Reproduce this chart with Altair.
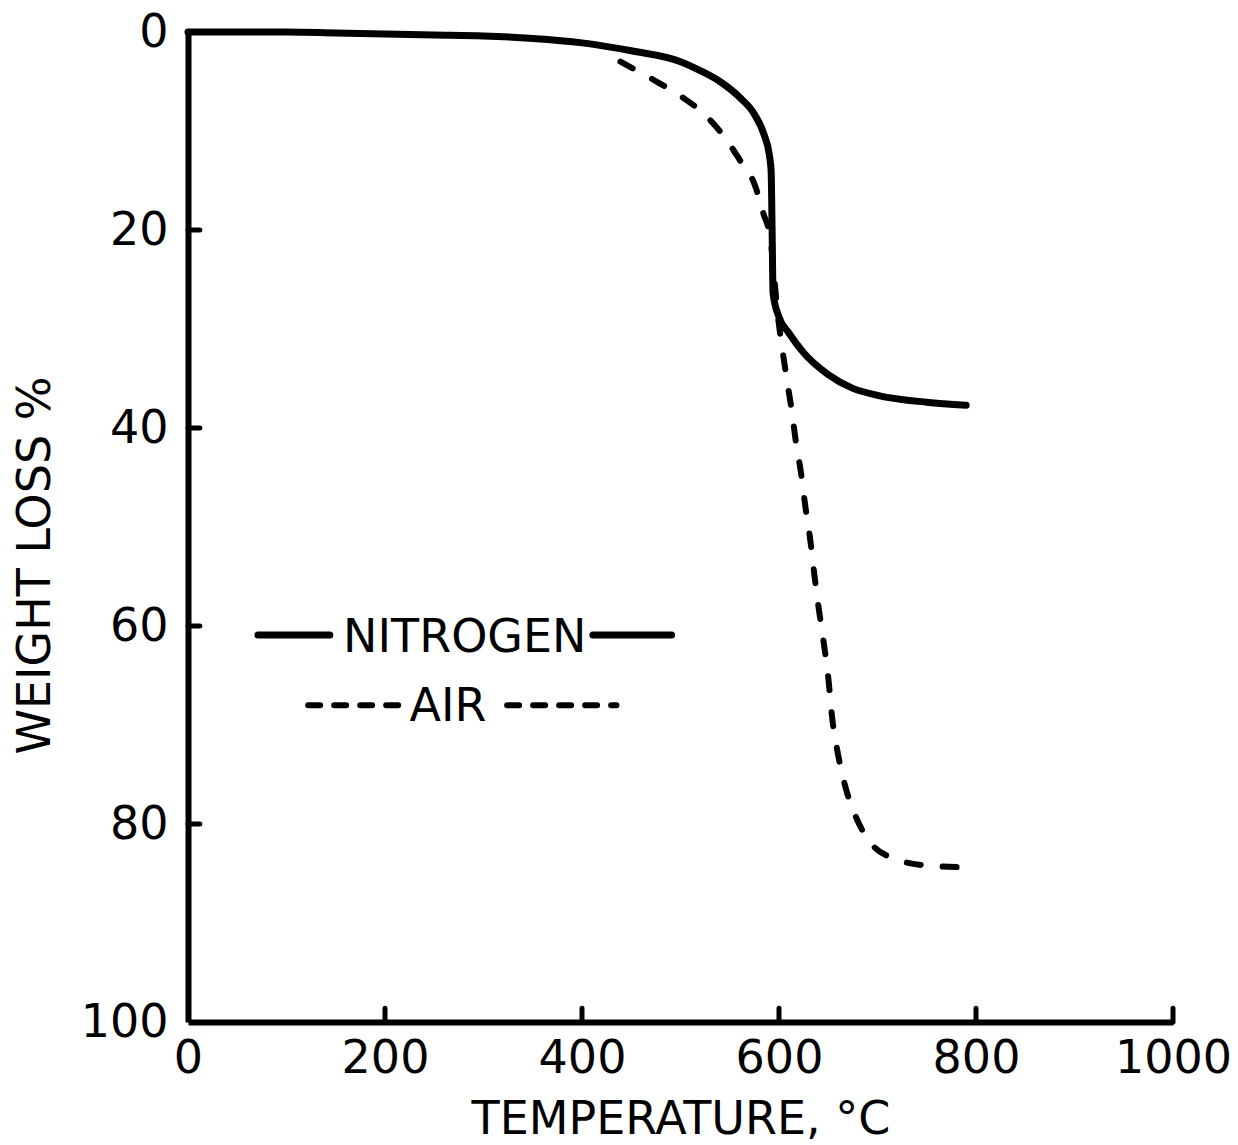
import altair as alt
import pandas as pd

# Nitrogen (solid) curve: temperature (deg C) vs weight loss (%)
temp_n = [0, 50, 100, 150, 200, 250, 300, 350, 400, 450, 500, 520, 540, 560,
          575, 585, 590, 592, 593, 594, 600, 610, 625, 650, 675, 700, 750, 790]
loss_n = [0, 0, 0, 0.1, 0.2, 0.3, 0.4, 0.65, 1.1, 1.9, 3.0, 3.9, 5.0, 6.6,
          8.3, 10.4, 12.3, 14.0, 20.0, 26.4, 28.8, 30.4, 32.4, 34.6, 36.0, 36.7, 37.4, 37.7]

# Air (dashed) curve
temp_a = [439, 472, 502, 523, 543, 560, 576, 584, 591, 599, 606, 614, 617, 622,
          627, 632, 636, 640, 645, 650, 654, 660, 669, 679, 693, 717, 751, 799]
loss_a = [3.0, 4.8, 6.6, 8.2, 10.4, 12.9, 15.6, 18.3, 20.7, 28.8, 33.8, 39.0, 41.3, 44.3,
          48.1, 51.5, 54.9, 58.0, 61.4, 65.2, 69.3, 73.0, 76.8, 79.5, 81.9, 83.5, 84.2, 84.4]

x_ticks = [0, 200, 400, 600, 800, 1000]
y_ticks = [0, 20, 40, 60, 80, 100]
x_inner_ticks = [200, 400, 600, 800, 1000]
y_inner_ticks = [20, 40, 60, 80]

# In-plot legend
legend_names = ["NITROGEN", "AIR"]
legend_text_x = [281, 264]
legend_text_y = [62.6, 69.6]
legend_line_y = [60.9, 68.0]
legend_left_x = [[71, 144], [122, 217]]
legend_right_x = [[411, 491], [324, 435]]

FONT = "DejaVu Sans"
FS = 46

n_df = pd.DataFrame({"temp": temp_n, "loss": loss_n})
a_df = pd.DataFrame({"temp": temp_a, "loss": loss_a})

xs = alt.Scale(domain=[0, 1000], nice=False, zero=False)
ys = alt.Scale(domain=[0, 100], reverse=True, nice=False)

x_axis = alt.Axis(values=x_ticks, format="d", ticks=False, grid=False, domainWidth=6,
                  domainColor="black",
                  labelFont=FONT, labelFontSize=FS, labelColor="black", labelPadding=14,
                  labelFlush=False, labelOverlap=False,
                  title="TEMPERATURE, °C", titleFont=FONT, titleFontSize=FS,
                  titleFontWeight="normal", titleColor="black", titlePadding=16)
y_axis = alt.Axis(values=y_ticks, format="d", ticks=False, grid=False, domainWidth=6,
                  domainColor="black",
                  labelFont=FONT, labelFontSize=FS, labelColor="black", labelPadding=20,
                  labelFlush=False, labelOverlap=False,
                  title="WEIGHT LOSS %", titleFont=FONT, titleFontSize=FS,
                  titleFontWeight="normal", titleColor="black",
                  titleX=-153, titleY=533, titleAngle=-90, titleBaseline="middle",
                  titleAlign="center")

nitrogen = alt.Chart(n_df).mark_line(color="black", strokeWidth=7, interpolate="monotone",
                                     strokeCap="round", strokeJoin="round").encode(
    x=alt.X("temp:Q", scale=xs, axis=x_axis),
    y=alt.Y("loss:Q", scale=ys, axis=y_axis),
)

air = alt.Chart(a_df).mark_line(color="black", strokeWidth=6, interpolate="monotone",
                                strokeCap="round", strokeDash=[14, 22]).encode(
    x=alt.X("temp:Q", scale=xs),
    y=alt.Y("loss:Q", scale=ys),
)

xt_df = pd.DataFrame({"x": x_inner_ticks, "y": [100] * len(x_inner_ticks),
                      "y2": [98.6] * len(x_inner_ticks)})
x_tick_rules = alt.Chart(xt_df).mark_rule(color="black", strokeWidth=5, strokeCap="round").encode(
    x=alt.X("x:Q", scale=xs), y=alt.Y("y:Q", scale=ys), y2="y2:Q")

yt_df = pd.DataFrame({"y": y_inner_ticks, "x": [0] * len(y_inner_ticks),
                      "x2": [12] * len(y_inner_ticks)})
y_tick_rules = alt.Chart(yt_df).mark_rule(color="black", strokeWidth=5, strokeCap="round").encode(
    y=alt.Y("y:Q", scale=ys), x=alt.X("x:Q", scale=xs), x2="x2:Q")

leg_lines = []
for i, name in enumerate(legend_names):
    for seg in (legend_left_x[i], legend_right_x[i]):
        leg_lines.append({"name": name, "x": seg[0], "x2": seg[1], "y": legend_line_y[i]})
leg_df = pd.DataFrame(leg_lines)

leg_solid = alt.Chart(leg_df[leg_df["name"] == "NITROGEN"]).mark_rule(
    color="black", strokeWidth=7, strokeCap="round").encode(
    x=alt.X("x:Q", scale=xs), x2="x2:Q", y=alt.Y("y:Q", scale=ys))
leg_dash = alt.Chart(leg_df[leg_df["name"] == "AIR"]).mark_rule(
    color="black", strokeWidth=6, strokeCap="round", strokeDash=[12, 14]).encode(
    x=alt.X("x:Q", scale=xs), x2="x2:Q", y=alt.Y("y:Q", scale=ys))

lt_df = pd.DataFrame({"name": legend_names, "x": legend_text_x, "y": legend_text_y})
leg_text = alt.Chart(lt_df).mark_text(font=FONT, fontSize=FS, color="black",
                                      baseline="alphabetic", align="center").encode(
    x=alt.X("x:Q", scale=xs), y=alt.Y("y:Q", scale=ys), text="name:N")

chart = alt.layer(nitrogen, air, x_tick_rules, y_tick_rules, leg_solid, leg_dash, leg_text).properties(
    width=985, height=990,
    padding={"left": 188, "top": 32, "right": 65, "bottom": 123},
    autosize=alt.AutoSizeParams(type="none"),
    background="white",
).configure_view(strokeWidth=0)

chart.save("out.html", embed_options={"renderer": "svg", "actions": False})
